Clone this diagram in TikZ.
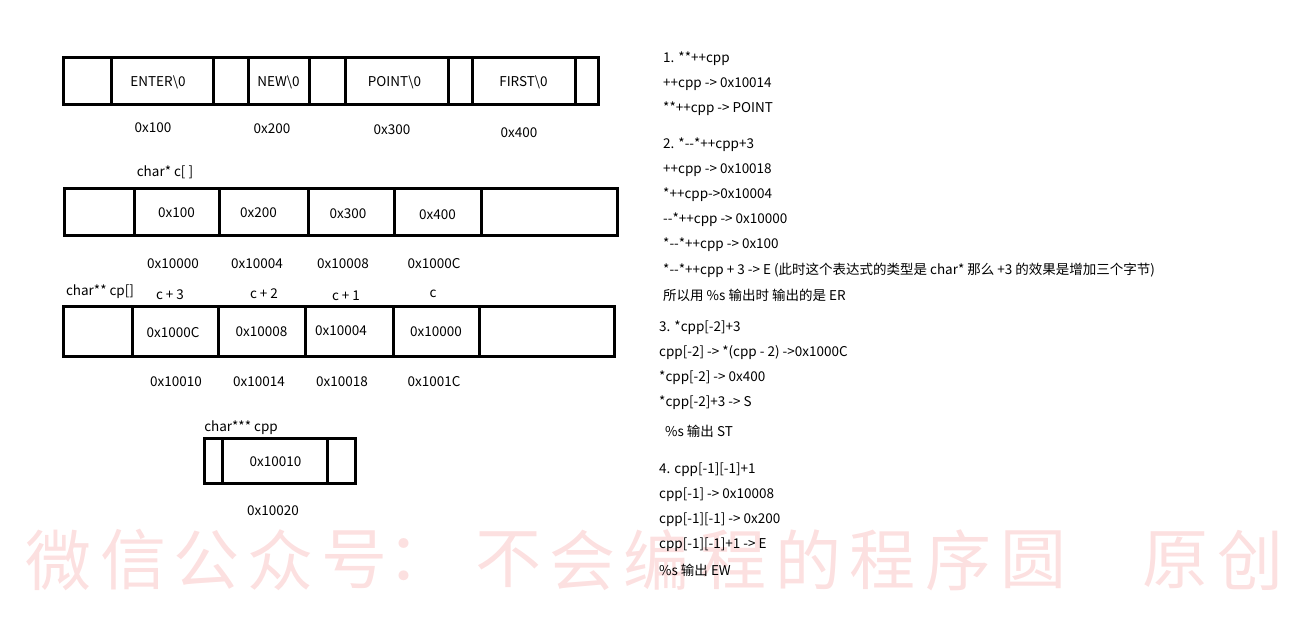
\documentclass[tikz,border=0pt]{standalone}
\usepackage{fontspec}
\setmainfont{Noto Sans CJK SC}
\definecolor{wm}{RGB}{252,224,224}
\tikzset{
  cell/.style={draw=black, line width=3pt, inner sep=0pt, outer sep=0pt, font=\fontsize{13.5}{15}\selectfont},
  lab/.style={inner sep=0pt, font=\fontsize{13.5}{15}\selectfont},
  txt/.style={inner sep=0pt, anchor=west, font=\fontsize{13.5}{15}\selectfont},
  wmk/.style={inner sep=0pt, text=wm, font=\fontsize{66}{70}\selectfont}
}
\begin{document}
\begin{tikzpicture}[x=1pt,y=-1pt]
\useasboundingbox (0,0) rectangle (1297,635);
% watermark
\foreach \c/\x [count=\i] in {微/58,信/133,公/206,众/280,号/354,：/420,不/508,会/582,编/656,程/733,的/808,程/882,序/958,圆/1033,原/1175,创/1250}
  \node[wmk] (wm\i) at (\x,560) {\c};
% row 1
\begin{scope}[every node/.append style={cell, minimum height=47pt}]
\node[minimum width=48pt]  (r1a) at (87,80.5) {};
\node[minimum width=102pt] (r1b) at (162,80.5) {};
\node[minimum width=35pt]  (r1c) at (230.5,80.5) {};
\node[minimum width=61pt]  (r1d) at (278.5,80.5) {};
\node[minimum width=36pt]  (r1e) at (327,80.5) {};
\node[minimum width=103pt] (r1f) at (396.5,80.5) {};
\node[minimum width=24pt]  (r1g) at (460,80.5) {};
\node[minimum width=103pt] (r1h) at (523.5,80.5) {};
\node[minimum width=23pt]  (r1i) at (586.5,80.5) {};
\end{scope}
\node[lab] (s1) at ([xshift=-4pt,yshift=-2pt]r1b.center) {ENTER\textbackslash 0};
\node[lab] (s2) at ([yshift=-2pt]r1d.center) {NEW\textbackslash 0};
\node[lab] (s3) at ([xshift=-2pt,yshift=-2pt]r1f.center) {POINT\textbackslash 0};
\node[lab] (s4) at ([yshift=-2pt]r1h.center) {FIRST\textbackslash 0};
\node[lab] (a1) at (153,128) {0x100};
\node[lab] (a2) at (272,129) {0x200};
\node[lab] (a3) at (392,130) {0x300};
\node[lab] (a4) at (519,133) {0x400};
% row 2
\node[lab] (cname) at (165,172) {char* c[ ]};
\begin{scope}[every node/.append style={cell, minimum height=47pt}]
\node[minimum width=70pt]  (r2a) at (99,211.5) {};
\node[minimum width=85pt]  (r2b) at (176.5,211.5) {};
\node[minimum width=89pt]  (r2c) at (263.5,211.5) {};
\node[minimum width=86pt]  (r2d) at (351,211.5) {};
\node[minimum width=87pt]  (r2e) at (437.5,211.5) {};
\node[minimum width=136pt] (r2f) at (549,211.5) {};
\end{scope}
\node[lab] (v1) at ([yshift=-1pt]r2b.center) {0x100};
\node[lab] (v2) at ([xshift=-5pt,yshift=-1pt]r2c.center) {0x200};
\node[lab] (v3) at ([xshift=-3pt,yshift=-2pt]r2d.center) {0x300};
\node[lab] (v4) at ([yshift=-3pt]r2e.center) {0x400};
\node[lab] (b1) at (173,264) {0x10000};
\node[lab] (b2) at (257,264) {0x10004};
\node[lab] (b3) at (343,264) {0x10008};
\node[lab] (b4) at (434,264) {0x1000C};
% row 3
\node[lab] (cpname) at (100,292) {char** cp[]};
\node[lab] (p3) at (170,295) {c + 3};
\node[lab] (p2) at (264,294) {c + 2};
\node[lab] (p1) at (346,296) {c + 1};
\node[lab] (p0) at (433,294) {c};
\begin{scope}[every node/.append style={cell, minimum height=50pt}]
\node[minimum width=69pt]  (r3a) at (97.5,331) {};
\node[minimum width=86pt]  (r3b) at (175,331) {};
\node[minimum width=87pt]  (r3c) at (261.5,331) {};
\node[minimum width=88pt]  (r3d) at (349,331) {};
\node[minimum width=86pt]  (r3e) at (436,331) {};
\node[minimum width=135pt] (r3f) at (546.5,331) {};
\end{scope}
\node[lab] (w1) at ([xshift=-2pt,yshift=-2pt]r3b.center) {0x1000C};
\node[lab] (w2) at ([yshift=-1pt]r3c.center) {0x10008};
\node[lab] (w3) at ([xshift=-8pt]r3d.center) {0x10004};
\node[lab] (w4) at ([yshift=-1pt]r3e.center) {0x10000};
\node[lab] (d1) at (176,382) {0x10010};
\node[lab] (d2) at (259,382) {0x10014};
\node[lab] (d3) at (342,382) {0x10018};
\node[lab] (d4) at (434,382) {0x1001C};
% row 4
\node[lab] (cppname) at (241,428) {char*** cpp};
\begin{scope}[every node/.append style={cell, minimum height=45pt}]
\node[minimum width=18pt]  (r4a) at (213,460.5) {};
\node[minimum width=105pt] (r4b) at (274.5,460.5) {};
\node[minimum width=28pt]  (r4c) at (341,460.5) {};
\end{scope}
\node[lab] (x1) at ([xshift=1pt,yshift=-1pt]r4b.center) {0x10010};
\node[lab] (e1) at (273,511) {0x10020};
% right-hand notes
\node[txt] (t1)  at (663,59)  {1. **++cpp};
\node[txt] (t2)  at (663,84)  {++cpp -> 0x10014};
\node[txt] (t3)  at (663,109) {**++cpp -> POINT};
\node[txt] (t4)  at (663,145) {2. *-{}-*++cpp+3};
\node[txt] (t5)  at (663,170) {++cpp -> 0x10018};
\node[txt] (t6)  at (663,195) {*++cpp->0x10004};
\node[txt] (t7)  at (663,220) {-{}-*++cpp -> 0x10000};
\node[txt] (t8)  at (663,245) {*-{}-*++cpp -> 0x100};
\node[txt] (t9)  at (663,270) {*-{}-*++cpp + 3 -> E (此时这个表达式的类型是 char* 那么 +3 的效果是增加三个字节)};
\node[txt] (t10) at (663,295) {所以用 \%s 输出时 输出的是 ER};
\node[txt] (t11) at (659,328) {3. *cpp[-2]+3};
\node[txt] (t12) at (659,353) {cpp[-2] -> *(cpp - 2) ->0x1000C};
\node[txt] (t13) at (659,378) {*cpp[-2] -> 0x400};
\node[txt] (t14) at (659,403) {*cpp[-2]+3 -> S};
\node[txt] (t15) at (665,431) {\%s 输出 ST};
\node[txt] (t16) at (659,470) {4. cpp[-1][-1]+1};
\node[txt] (t17) at (659,495) {cpp[-1] -> 0x10008};
\node[txt] (t18) at (659,520) {cpp[-1][-1] -> 0x200};
\node[txt] (t19) at (659,545) {cpp[-1][-1]+1 -> E};
\node[txt] (t20) at (659,570) {\%s 输出 EW};
\end{tikzpicture}
\end{document}
